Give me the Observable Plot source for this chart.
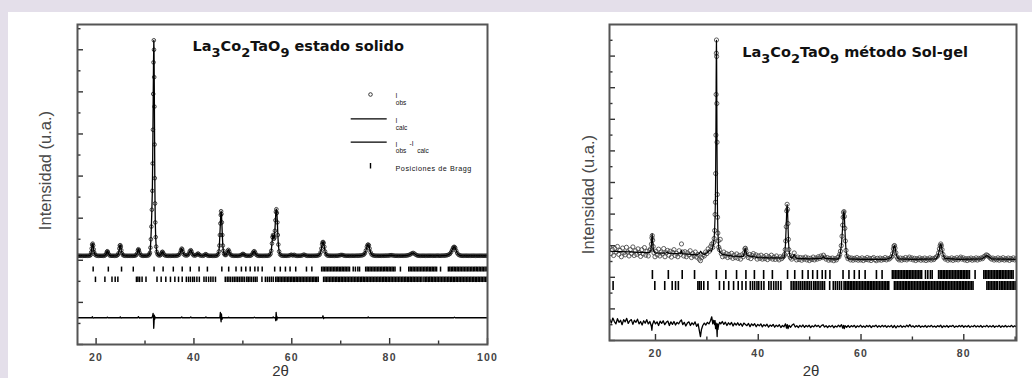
<!DOCTYPE html>
<html><head><meta charset="utf-8">
<script src="https://cdn.jsdelivr.net/npm/d3@7"></script>
<script src="https://cdn.jsdelivr.net/npm/@observablehq/plot@0.6"></script>
<style>
html,body{margin:0;padding:0;}
body{width:1032px;height:378px;overflow:hidden;background:#e4dfea;position:relative;font-family:"Liberation Sans",Arial,sans-serif;}
#sheet{position:absolute;left:8px;top:12px;width:1024px;height:366px;background:#fff;overflow:hidden;}
#left{position:absolute;left:0;top:0;}
#right{position:absolute;left:512px;top:0;}
g[aria-label="x-axis tick label"] text{letter-spacing:1.2px;}
</style></head><body>
<div id="sheet"><div id="left"></div><div id="right"></div></div>
<script>
// ---------- shared tick labels ----------
const xMajorLeft = [20, 40, 60, 80, 100];
const xMinorLeft = [30, 50, 70, 90];
const xMajorRight = [20, 40, 60, 80];
const xMinorRight = [30, 50, 70, 90];
const yMajorLeft = [-4000, -2000, 0, 2000, 4000, 6000, 8000, 10000];
const yMinorLeft = [-3000, -1000, 1000, 3000, 5000, 7000, 9000, 11000];
const yMajorRight = [-2000, 0, 2000, 4000, 6000, 8000, 10000, 12000, 14000, 16000];
const yMinorRight = [-1000, 1000, 3000, 5000, 7000, 9000, 11000, 13000, 15000, 17000];

const titleLeft = [["La",0],["3",1],["Co",0],["2",1],["TaO",0],["9",1],[" estado solido",0]];
const titleRight = [["La",0],["3",1],["Co",0],["2",1],["TaO",0],["9",1],[" método Sol-gel",0]];
const yLabel = "Intensidad (u.a.)";
const xLabel = "2θ";

// ---------- Bragg positions (2θ) ----------
const braggPhase1 = [19.4,22.5,25.2,27.6,31.85,33.7,35.78,37.6,39.25,41.05,42.75,45.7,47.1,48.6,49.7,50.6,51.5,52.45,53.1,53.95,56.5,57.65,58.7,59.65,60.8,63.0,64.1,
 66.1,66.4,66.7,67.0,67.3,67.6,67.9,68.2,68.5,68.8,69.1,69.4,69.7,70.0,70.3,70.6,70.9,71.2,71.5,71.8,72.55,73.0,73.5,73.85,
 75.1,75.4,75.7,76.0,76.3,76.6,76.9,77.2,77.5,77.8,78.1,78.4,78.7,79.0,79.3,79.6,79.9,80.2,80.5,80.8,81.1,82.2,
 83.9,84.2,84.5,84.8,85.1,85.4,85.7,86.0,86.3,86.6,86.9,87.2,87.5,87.8,88.1,88.4,88.7,89.0,89.3,89.6,90.4,
 92.0,92.3,92.6,92.9,93.2,93.5,93.8,94.1,94.4,94.7,95.0,95.3,95.6,95.9,96.2,96.5,96.8,97.1,97.4,97.7,98.0,98.3,98.6,98.9,99.2,99.5,99.8];
const braggPhase2 = [11.75,19.87,21.8,23.25,23.9,24.45,28.25,28.55,28.9,29.4,30.2,32.45,33.3,34.25,35.2,36.1,36.85,37.6,38.45,38.9,39.3,39.75,40.1,40.6,41.1,
 42.05,42.5,43.0,43.45,43.9,44.4,46.4,46.8,47.15,47.5,47.9,48.25,48.6,48.95,49.3,49.65,50.0,50.35,50.8,51.1,51.45,51.8,52.2,52.55,52.9,53.9,54.6,55.0,55.4,55.8,56.2,
 56.7,57.0,57.3,57.6,57.9,58.2,58.5,58.8,59.1,59.4,59.7,60.0,60.3,60.6,60.9,61.2,61.5,61.8,62.1,62.4,62.7,63.0,63.3,63.6,63.9,64.2,64.5,64.8,65.1,65.4,
 66.5,66.8,67.1,67.4,67.7,68.0,68.3,68.6,68.9,69.2,69.5,69.8,70.1,70.4,70.7,71.0,71.3,71.6,71.9,72.2,72.5,72.8,73.1,73.4,73.7,74.0,74.3,74.6,74.9,75.2,75.5,75.8,
 76.1,76.4,76.7,77.0,77.3,77.6,77.9,78.2,78.5,78.8,79.1,79.4,79.7,80.0,80.3,80.6,80.9,81.2,81.5,81.8,
 84.5,84.8,85.1,85.4,85.7,86.0,86.3,86.6,87.0,87.3,87.6,87.9,88.2,88.5,88.8,89.1,89.4,89.7,90.0,90.3,90.6,90.9,91.2,91.5,91.8,92.1,92.4,92.7,93.0,93.3,93.6,93.9,
 94.2,94.5,94.8,95.1,95.4,95.7,96.0,96.3,96.6,96.9,97.2,97.5,97.8,98.1,98.4,98.7,99.0,99.3,99.6,99.9];
// reflections of phase 2 seen only in the solid-state pattern
const braggPhase2SolidExtra = [82.1,82.4,82.7,83.0,83.3,83.6,83.9,84.2];

// ---------- Left panel: estado solido  [2θ, intensity] ----------
const solidObs = [[16.25,215],[16.5,218],[16.75,212],[17,216],[17.25,210],[17.5,214],[17.75,211],[18,215],[18.25,213],[18.5,217],[18.75,225],
[18.9,260],[19.0,380],[19.1,560],[19.2,740],[19.3,790],[19.4,700],[19.5,520],[19.6,380],[19.75,280],[20.0,230],[20.25,218],[20.5,212],[20.75,215],[21.0,210],[21.25,214],[21.5,212],[21.75,225],
[21.9,250],[22.1,320],[22.2,400],[22.3,430],[22.4,390],[22.55,300],[22.75,235],[23.0,215],[23.25,212],[23.5,216],[23.75,211],[24.0,214],[24.25,222],
[24.45,260],[24.6,340],[24.75,560],[24.85,700],[24.95,715],[25.05,640],[25.15,480],[25.3,330],[25.5,245],[25.75,218],[26.0,213],[26.25,216],[26.5,210],[26.75,214],[27.0,212],[27.25,215],[27.5,211],[27.75,216],[28.0,222],
[28.2,250],[28.4,330],[28.55,470],[28.65,525],[28.75,480],[28.9,360],[29.1,260],[29.3,225],[29.5,215],[29.75,212],[30.0,218],[30.25,214],[30.5,222],[30.75,240],
[30.9,290],[31.0,360],[31.1,600],[31.2,1000],[31.3,1600],[31.4,2400],[31.5,3300],[31.56,4600],[31.62,6200],[31.68,7900],[31.74,9400],[31.8,10450],[31.84,10000],[31.88,8700],[31.92,7300],[31.96,5500],[32.0,3900],[32.05,2700],[32.1,1800],[32.18,1100],[32.28,650],[32.4,400],[32.55,290],[32.75,240],
[33.0,228],[33.2,255],[33.35,330],[33.5,395],[33.6,400],[33.75,330],[33.95,250],[34.2,222],[34.5,215],[34.75,212],[35.0,216],[35.25,211],[35.5,214],[35.75,218],[36.0,213],[36.25,216],[36.5,220],[36.75,235],
[37.0,270],[37.2,360],[37.35,480],[37.5,555],[37.6,520],[37.75,400],[37.95,280],[38.2,235],[38.5,228],[38.75,250],[38.95,320],[39.15,430],[39.35,480],[39.5,420],[39.7,300],[39.9,240],[40.15,225],[40.4,240],[40.6,280],[40.8,320],[40.95,300],[41.15,245],[41.4,220],[41.75,214],
[42.0,222],[42.2,260],[42.4,290],[42.55,270],[42.75,230],[43.0,215],[43.25,212],[43.5,216],[43.75,210],[44.0,214],[44.25,212],[44.5,218],[44.75,235],
[44.95,290],[45.1,420],[45.2,700],[45.3,1200],[45.4,1750],[45.48,2150],[45.55,2330],[45.62,2200],[45.7,1800],[45.8,1200],[45.9,700],[46.0,450],[46.15,310],[46.35,250],[46.55,250],[46.75,330],[46.9,450],[47.05,495],[47.2,420],[47.4,300],[47.6,240],[47.85,222],
[48.1,215],[48.35,213],[48.6,217],[48.85,212],[49.1,216],[49.35,222],[49.6,240],[49.8,275],[50.0,305],[50.2,285],[50.4,240],[50.65,220],[50.9,214],[51.15,218],[51.4,213],[51.65,225],[51.85,270],[52.05,350],[52.2,410],[52.35,430],[52.5,370],[52.7,270],[52.95,228],
[53.2,215],[53.45,212],[53.7,216],[53.95,211],[54.2,215],[54.45,213],[54.7,217],[54.95,214],[55.2,220],[55.45,240],[55.65,300],[55.8,450],[55.95,800],[56.05,1100],[56.15,1200],[56.25,1150],[56.35,1020],[56.45,1080],[56.55,1400],[56.65,1900],[56.75,2300],[56.85,2425],[56.95,2250],[57.05,1800],[57.15,1200],[57.25,750],[57.4,420],[57.6,280],[57.85,230],
[58.1,218],[58.35,214],[58.6,217],[58.85,212],[59.1,216],[59.4,222],[59.65,240],[59.9,265],[60.1,240],[60.3,235],[60.5,260],[60.7,228],[60.95,215],[61.2,212],[61.45,216],[61.7,214],[61.95,222],[62.2,240],[62.45,270],[62.7,250],[62.95,222],
[63.2,213],[63.45,216],[63.7,211],[63.95,215],[64.2,212],[64.45,216],[64.7,214],[64.95,218],[65.2,222],[65.45,235],[65.7,270],[65.9,380],[66.05,560],[66.2,760],[66.3,850],[66.4,870],[66.5,820],[66.65,640],[66.8,420],[67.0,290],[67.25,230],
[67.5,218],[67.75,214],[68.0,217],[68.25,213],[68.5,216],[68.75,212],[69.0,218],[69.25,214],[69.5,222],[69.75,235],[70.0,250],[70.25,255],[70.5,240],[70.75,222],[71.0,215],[71.25,213],[71.5,217],[71.75,212],[72.0,216],[72.25,214],[72.5,218],[72.75,213],
[73.0,216],[73.25,220],[73.5,217],[73.75,222],[74.0,226],[74.25,232],[74.5,245],[74.75,275],[74.95,340],[75.15,470],[75.35,640],[75.5,730],[75.62,745],[75.75,710],[75.9,560],[76.1,380],[76.3,280],[76.55,240],[76.8,225],
[77.05,218],[77.3,214],[77.55,217],[77.8,212],[78.05,216],[78.3,214],[78.55,218],[78.8,215],[79.05,219],[79.3,222],[79.55,218],[79.8,226],[80.05,235],[80.3,245],[80.55,238],[80.8,225],[81.05,217],[81.3,214],[81.55,218],[81.8,213],
[82.05,216],[82.3,214],[82.55,219],[82.8,215],[83.05,218],[83.3,222],[83.55,230],[83.8,242],[84.05,262],[84.3,290],[84.55,330],[84.8,350],[85.05,320],[85.3,270],[85.55,238],[85.8,222],[86.05,216],[86.3,213],[86.55,217],[86.8,214],
[87.05,218],[87.3,212],[87.55,216],[87.8,214],[88.05,218],[88.3,215],[88.55,219],[88.8,214],[89.05,217],[89.3,213],[89.55,218],[89.8,222],[90.05,216],[90.3,214],[90.55,218],[90.8,223],[91.05,219],[91.3,226],[91.55,232],[91.8,245],
[92.05,265],[92.3,300],[92.55,380],[92.75,480],[92.95,580],[93.1,630],[93.25,635],[93.4,590],[93.6,460],[93.8,340],[94.05,270],[94.3,235],[94.55,222],[94.8,216],[95.05,213],[95.3,217],[95.55,214],[95.8,218],[96.05,212],[96.3,216],
[96.55,213],[96.8,217],[97.05,214],[97.3,218],[97.55,212],[97.8,216],[98.05,213],[98.3,217],[98.55,214],[98.8,218],[99.05,213],[99.3,216],[99.55,214],[99.8,217],[100.0,214]];
// Iobs - Icalc for the left panel
const solidDiff = [[16.25,0],[19.1,0],[19.25,50],[19.4,-20],[19.6,0],[22.2,0],[22.3,30],[22.45,0],[24.8,0],[24.95,45],[25.1,-20],[25.25,0],[28.5,0],[28.65,55],[28.8,-15],[28.95,0],
[31.4,0],[31.55,80],[31.65,210],[31.72,60],[31.78,-500],[31.84,-260],[31.9,120],[31.96,-80],[32.05,40],[32.15,0],[37.35,0],[37.5,40],[37.65,0],[39.2,0],[39.35,35],[39.5,0],[42.3,0],[42.45,40],[42.6,0],
[45.3,0],[45.4,250],[45.48,-60],[45.55,-190],[45.62,180],[45.72,-80],[45.85,0],[47.0,0],[47.1,25],[47.2,0],[52.2,0],[52.35,30],[52.5,0],[56.1,0],[56.2,40],[56.3,0],
[56.65,0],[56.72,-140],[56.8,256],[56.88,60],[56.95,-100],[57.05,30],[57.15,0],[66.25,0],[66.38,95],[66.5,-40],[66.6,0],[75.5,0],[75.62,40],[75.75,0],[93.1,0],[93.25,30],[93.4,0],[100,0]];

// ---------- Right panel: método Sol-gel ----------
const solgelObs = [[11.1,3900],[11.35,3500],[11.6,3750],[11.85,3380],[12.1,3820],[12.35,3600],[12.6,3950],[12.85,3450],[13.1,3700],[13.35,3300],[13.6,3850],[13.85,3550],[14.1,3420],[14.35,3900],[14.6,3600],[14.85,3350],
[15.1,3750],[15.35,3500],[15.6,3920],[15.85,3380],[16.1,3680],[16.35,3450],[16.6,3800],[16.85,3550],[17.1,3320],[17.35,3750],[17.6,3480],[17.85,3880],[18.1,3400],[18.35,3650],[18.6,3350],[18.85,3700],
[19.05,3800],[19.2,4100],[19.3,4500],[19.37,4640],[19.45,4350],[19.55,3950],[19.7,3550],[19.9,3300],[20.1,3650],[20.35,3420],[20.6,3780],[20.85,3350],[21.1,3600],[21.35,3480],[21.6,3820],[21.85,3300],
[22.1,3550],[22.35,3700],[22.6,3400],[22.85,3650],[23.1,3280],[23.35,3580],[23.6,3750],[23.85,3380],[24.1,3520],[24.35,3300],[24.6,3680],[24.85,3450],[25.06,4110],[25.25,3600],[25.5,3350],[25.75,3620],
[26.0,3300],[26.25,3550],[26.5,3420],[26.75,3680],[27.0,3250],[27.25,3500],[27.5,3350],[27.75,3600],[28.0,3280],[28.25,3450],[28.5,3150],[28.75,3050],[29.0,3250],[29.25,3420],[29.5,3350],[29.75,3600],
[30.0,3500],[30.25,3800],[30.5,3650],[30.75,3950],[30.95,4100],[31.15,3900],[31.3,4200],[31.42,4455],[31.52,4961],[31.6,5974],[31.66,6752],[31.71,8568],[31.76,11000],[31.8,13571],[31.84,16184],[31.87,17019],
[31.9,15975],[31.94,13000],[31.98,10549],[32.03,7239],[32.08,5800],[32.14,4800],[32.22,4300],[32.32,3900],[32.45,3750],[32.6,4400],[32.8,3500],[33.05,3300],[33.3,3600],[33.55,3350],[33.8,3500],[34.05,3250],
[34.3,3450],[34.55,3300],[34.8,3520],[35.05,3200],[35.3,3400],[35.55,3250],[35.8,3480],[36.05,3200],[36.3,3380],[36.55,3150],[36.8,3420],[37.05,3300],[37.25,3550],[37.4,3800],[37.5,3840],[37.6,3700],
[37.8,3400],[38.05,3250],[38.3,3450],[38.55,3180],[38.8,3380],[39.05,3500],[39.3,3300],[39.55,3420],[39.8,3150],[40.05,3350],[40.3,3200],[40.55,3400],[40.8,3150],[41.05,3300],[41.3,3180],[41.55,3380],
[41.8,3120],[42.05,3300],[42.3,3220],[42.55,3400],[42.8,3150],[43.05,3280],[43.3,3130],[43.55,3350],[43.8,3200],[44.05,3100],[44.3,3300],[44.55,3180],[44.8,3280],[45.0,3350],[45.12,3450],[45.25,3750],
[45.35,4300],[45.45,5200],[45.54,6200],[45.62,6620],[45.7,6300],[45.78,5400],[45.86,4400],[45.95,3750],[46.08,3400],[46.25,3250],[46.5,3150],[46.75,3300],[47.0,3540],[47.2,3250],[47.45,3100],[47.7,3280],
[47.95,3120],[48.2,3250],[48.45,3080],[48.7,3230],[48.95,3150],[49.2,3280],[49.45,3100],[49.7,3220],[49.95,3060],[50.2,3200],[50.45,3120],[50.7,3280],[50.95,3100],[51.2,3220],[51.45,3150],[51.7,3300],
[51.95,3200],[52.2,3350],[52.45,3250],[52.7,3400],[52.95,3280],[53.2,3150],[53.45,3250],[53.7,3080],[53.95,3200],[54.2,3100],[54.45,3220],[54.7,3050],[54.95,3180],[55.2,3100],[55.45,3250],[55.7,3300],
[55.85,3450],[56.0,3650],[56.15,4000],[56.3,4600],[56.42,5300],[56.52,5800],[56.6,6100],[56.68,6160],[56.76,5850],[56.85,5100],[56.95,4300],[57.08,3700],[57.25,3350],[57.45,3180],[57.7,3250],[57.95,3100],
[58.2,3220],[58.45,3080],[58.7,3200],[58.95,3120],[59.2,3250],[59.45,3080],[59.7,3180],[59.95,3100],[60.2,3230],[60.45,3060],[60.7,3180],[60.95,3120],[61.2,3250],[61.45,3100],[61.7,3200],[61.95,3060],
[62.2,3180],[62.45,3250],[62.7,3120],[62.95,3050],[63.2,3200],[63.45,3100],[63.7,3220],[63.95,3080],[64.2,3180],[64.45,3120],[64.7,3250],[64.95,3100],[65.2,3200],[65.45,3150],[65.7,3220],[65.95,3300],
[66.15,3500],[66.3,3800],[66.42,3980],[66.52,4010],[66.62,3850],[66.78,3550],[66.95,3300],[67.15,3180],[67.4,3100],[67.65,3220],[67.9,3080],[68.15,3200],[68.4,3120],[68.65,3250],[68.9,3100],[69.15,3180],
[69.4,3280],[69.65,3150],[69.9,3230],[70.15,3100],[70.4,3200],[70.65,3060],[70.9,3180],[71.15,3120],[71.4,3230],[71.65,3080],[71.9,3180],[72.15,3100],[72.4,3220],[72.65,3060],[72.9,3170],[73.15,3110],
[73.4,3230],[73.65,3090],[73.9,3190],[74.15,3120],[74.4,3220],[74.65,3280],[74.9,3350],[75.1,3550],[75.25,3800],[75.4,4000],[75.52,4110],[75.64,4000],[75.78,3750],[75.95,3450],[76.15,3250],[76.4,3150],
[76.65,3220],[76.9,3080],[77.15,3180],[77.4,3110],[77.65,3230],[77.9,3070],[78.15,3190],[78.4,3120],[78.65,3240],[78.9,3100],[79.15,3200],[79.4,3280],[79.65,3150],[79.9,3230],[80.15,3100],[80.4,3180],
[80.65,3060],[80.9,3190],[81.15,3120],[81.4,3220],[81.65,3080],[81.9,3180],[82.15,3110],[82.4,3230],[82.65,3090],[82.9,3200],[83.15,3140],[83.4,3230],[83.65,3180],[83.9,3300],[84.15,3350],[84.4,3420],
[84.65,3380],[84.9,3300],[85.15,3220],[85.4,3150],[85.65,3220],[85.9,3090],[86.15,3180],[86.4,3110],[86.65,3230],[86.9,3080],[87.15,3190],[87.4,3120],[87.65,3240],[87.9,3090],[88.15,3180],[88.4,3110],
[88.65,3220],[88.9,3070],[89.15,3190],[89.4,3120],[89.65,3230],[89.9,3100],[90.15,3180]];
const solgelCalc = [[11.1,3650],[13,3630],[15,3610],[17,3580],[18.8,3560],[19.1,3700],[19.25,4300],[19.35,4750],[19.45,4300],[19.6,3700],[19.9,3550],[22,3530],[22.3,3600],[22.5,3530],[24.9,3490],[25.05,3700],[25.25,3490],
[27,3450],[28,3420],[28.5,3500],[28.8,3650],[29.1,3500],[29.5,3450],[30,3550],[30.5,3700],[30.9,3650],[31.2,3950],[31.4,4400],[31.5,4950],[31.6,5900],[31.66,6900],[31.71,8800],[31.76,11500],[31.8,14300],[31.84,16500],[31.87,17000],
[31.9,16000],[31.94,13000],[31.98,10000],[32.03,7700],[32.08,6000],[32.14,5000],[32.22,4300],[32.32,3850],[32.5,3600],[33,3450],[35,3340],[37.1,3320],[37.3,3550],[37.45,3830],[37.6,3650],[37.8,3380],[40,3250],[42,3230],
[45,3220],[45.15,3450],[45.3,4100],[45.42,5100],[45.54,6250],[45.62,6600],[45.7,6250],[45.8,5200],[45.9,4200],[46.0,3650],[46.2,3300],[46.5,3220],[46.8,3300],[47.0,3450],[47.2,3280],[47.5,3200],[50,3170],[52.4,3200],[52.7,3300],[53,3200],
[55.5,3150],[55.8,3300],[56.0,3600],[56.2,4100],[56.35,4800],[56.5,5650],[56.6,6100],[56.68,6180],[56.76,5900],[56.86,5100],[56.96,4300],[57.1,3650],[57.3,3280],[57.6,3160],[60,3140],[65,3140],[65.9,3250],[66.15,3500],[66.3,3820],
[66.45,4000],[66.55,4000],[66.65,3850],[66.8,3550],[67,3300],[67.3,3170],[70,3140],[74.6,3170],[75,3350],[75.25,3750],[75.4,4000],[75.52,4100],[75.64,4000],[75.8,3700],[76,3400],[76.3,3200],[79,3140],[83.5,3170],[84.5,3380],[85.4,3170],[90.2,3130]];
const solgelDiff = [[11.1,450],[11.4,200],[11.7,520],[12.0,300],[12.3,150],[12.6,480],[12.9,250],[13.2,380],[13.5,100],[13.8,420],[14.1,280],[14.4,500],[14.7,180],[15.0,350],[15.3,420],[15.6,120],[15.9,380],[16.2,250],[16.5,450],[16.8,150],
[17.1,300],[17.4,80],[17.7,350],[18.0,200],[18.3,420],[18.6,150],[18.9,300],[19.2,0],[19.3,-250],[19.4,100],[19.7,350],[20.0,150],[20.3,280],[20.6,50],[20.9,320],[21.2,180],[21.5,350],[21.8,100],[22.1,250],[22.4,330],[22.7,50],
[23.0,280],[23.3,120],[23.6,300],[23.9,80],[24.2,250],[24.5,150],[24.8,320],[25.05,400],[25.3,100],[25.6,250],[25.9,20],[26.2,200],[26.5,280],[26.8,50],[27.1,220],[27.4,100],[27.7,280],[28.0,0],[28.3,150],[28.55,-300],[28.75,-650],
[28.95,-200],[29.2,50],[29.5,200],[29.8,80],[30.1,250],[30.4,150],[30.7,350],[30.95,600],[31.15,150],[31.35,380],[31.5,100],[31.6,350],[31.7,-150],[31.8,200],[31.87,50],[31.94,-250],[32.0,-650],[32.06,150],[32.15,-200],[32.3,100],
[32.5,250],[32.7,150],[33.0,300],[33.3,120],[33.6,260],[33.9,50],[34.2,220],[34.5,100],[34.8,240],[35.1,20],[35.4,200],[35.7,80],[36.0,220],[36.3,60],[36.6,180],[36.9,0],[37.2,200],[37.5,120],[37.8,40],[38.1,180],[38.4,-20],
[38.7,150],[39.0,50],[39.3,160],[39.6,-30],[39.9,120],[40.2,30],[40.5,150],[40.8,-40],[41.1,100],[41.4,20],[41.7,130],[42.0,-50],[42.3,80],[42.6,0],[42.9,120],[43.2,-60],[43.5,70],[43.8,-20],[44.1,100],[44.4,-80],[44.7,50],
[45.0,-30],[45.3,150],[45.5,-120],[45.65,100],[45.8,-150],[46.0,60],[46.3,-60],[46.6,80],[46.9,150],[47.2,-50],[47.5,40],[47.8,-80],[48.1,60],[48.4,-40],[48.7,80],[49.0,-70],[49.3,50],[49.6,-30],[49.9,70],[50.2,-80],[50.5,30],
[50.8,-40],[51.1,80],[51.4,-20],[51.7,60],[52.0,-70],[52.3,40],[52.6,100],[52.9,-50],[53.2,30],[53.5,-80],[53.8,40],[54.1,-40],[54.4,60],[54.7,-90],[55.0,20],[55.3,-50],[55.6,70],[55.9,-30],[56.2,100],[56.45,-120],[56.6,60],
[56.75,-150],[56.9,40],[57.2,-60],[57.5,50],[57.8,-70],[58.1,40],[58.4,-30],[58.7,60],[59.0,-80],[59.3,30],[59.6,-40],[59.9,70],[60.2,-60],[60.5,20],[60.8,-70],[61.1,50],[61.4,-30],[61.7,60],[62.0,-80],[62.3,30],[62.6,-20],
[62.9,70],[63.2,-60],[63.5,40],[63.8,-50],[64.1,60],[64.4,-30],[64.7,50],[65.0,-70],[65.3,30],[65.6,-40],[65.9,60],[66.2,-80],[66.5,50],[66.8,-100],[67.1,30],[67.4,-40],[67.7,60],[68.0,-60],[68.3,20],[68.6,-50],[68.9,70],
[69.2,-30],[69.5,100],[69.8,-40],[70.1,30],[70.4,-70],[70.7,40],[71.0,-30],[71.3,60],[71.6,-60],[71.9,20],[72.2,-40],[72.5,50],[72.8,-70],[73.1,30],[73.4,-30],[73.7,60],[74.0,-50],[74.3,20],[74.6,-60],[74.9,40],[75.2,-30],
[75.5,70],[75.8,-80],[76.1,30],[76.4,-40],[76.7,50],[77.0,-60],[77.3,30],[77.6,-20],[77.9,60],[78.2,-70],[78.5,20],[78.8,-40],[79.1,50],[79.4,-30],[79.7,60],[80.0,-60],[80.3,30],[80.6,-40],[80.9,50],[81.2,-70],[81.5,20],
[81.8,-30],[82.1,60],[82.4,-50],[82.7,30],[83.0,-40],[83.3,50],[83.6,-60],[83.9,20],[84.2,-30],[84.5,60],[84.8,-50],[85.1,30],[85.4,-40],[85.7,50],[86.0,-60],[86.3,20],[86.6,-30],[86.9,60],[87.2,-70],[87.5,30],[87.8,-40],
[88.1,50],[88.4,-50],[88.7,20],[89.0,-30],[89.3,60],[89.6,-50],[89.9,30],[90.2,-20]];

// ---------- drawing ----------
function applySubs(svg, parts, subSize, shift) {
  const full = parts.map(p => p[0]).join("");
  d3.select(svg).selectAll("text").filter(function () { return this.textContent === full; }).each(function () {
    const t = d3.select(this); t.text(null);
    let low = false;
    for (const [s, sub] of parts) {
      const ts = t.append("tspan").text(s);
      if (sub) { ts.attr("font-size", subSize); if (!low) { ts.attr("dy", shift); low = true; } }
      else if (low) { ts.attr("dy", -shift); low = false; }
    }
  });
}

function panel(cfg) {
  const fw = cfg.width - cfg.ml - cfg.mr, fh = cfg.height - cfg.mt - cfg.mb;
  const [x0, x1] = cfg.xDomain, [y0, y1] = cfg.yDomain;
  const X = px => x0 + px / fw * (x1 - x0);          // frame-relative px -> data
  const Y = py => y1 - py / fh * (y1 - y0);
  const tickStyle = {stroke: "#333", strokeWidth: 1.4};
  const marks = [
    Plot.ruleX(cfg.phase1, {x: d => d, y1: cfg.rows[0][0], y2: cfg.rows[0][1], stroke: "#000", strokeWidth: cfg.braggW, clip: true}),
    Plot.ruleX(cfg.phase2, {x: d => d, y1: cfg.rows[1][0], y2: cfg.rows[1][1], stroke: "#000", strokeWidth: cfg.braggW, clip: true}),
    Plot.line(cfg.diff, {x: d => d[0], y: d => d[1] + cfg.diffOffset, stroke: "#000", strokeWidth: cfg.diffW, clip: true}),
    Plot.dot(cfg.obs, {x: d => d[0], y: d => d[1], r: cfg.r, stroke: cfg.dotColor, strokeWidth: 0.85, fill: "none", clip: true}),
    Plot.line(cfg.calc, {x: d => d[0], y: d => d[1], stroke: "#000", strokeWidth: cfg.calcW, clip: true}),
    Plot.ruleX(cfg.xMajor, {x: d => d, insetTop: fh - 6, ...tickStyle}),
    Plot.ruleX(cfg.xMinor, {x: d => d, insetTop: fh - 3.5, ...tickStyle}),
    Plot.ruleY(cfg.yMajor, {y: d => d, insetRight: fw - 6, ...tickStyle}),
    Plot.ruleY(cfg.yMinor, {y: d => d, insetRight: fw - 3.5, ...tickStyle}),
    Plot.frame({stroke: "#555", strokeWidth: 2}),
    Plot.axisX({ticks: cfg.xMajor, tickSize: 0, tickPadding: cfg.tickPad, label: null, fontSize: 10.5, fontWeight: "bold", fill: "#444"}),
    Plot.text([yLabel], {frameAnchor: "left", rotate: -90, dx: cfg.ylab[0], dy: cfg.ylab[1], fontSize: 16.5, fill: "#4a4a4a", textAnchor: "middle", lineAnchor: "middle"}),
    Plot.text([xLabel], {frameAnchor: "bottom", dx: -2, dy: cfg.xlabDy, fontSize: 15, fill: "#333", lineAnchor: "bottom"}),
    Plot.text([cfg.title.map(p => p[0]).join("")], {frameAnchor: "top-left", dx: cfg.titlePos[0], dy: cfg.titlePos[1], textAnchor: "start", lineAnchor: "bottom",
      fontSize: 14.5, fontWeight: "bold", fontFamily: "DejaVu Sans", fill: "#111"})
  ];
  if (cfg.legend) {
    const lg = {fontSize: 6.5, fill: "#111", textAnchor: "start", lineAnchor: "bottom", fontFamily: "Liberation Sans"};
    const item = (s, px, py, extra = {}) => Plot.text([s], {x: X(px), y: Y(py), ...lg, ...extra});
    marks.push(
      Plot.dot([0], {x: X(293), y: Y(70), r: 1.8, stroke: "#222", strokeWidth: 0.9, fill: "none"}),
      item("I", 318, 73.5), item("obs", 318.3, 80.5),
      Plot.ruleY([Y(94.3)], {x1: X(273.7), x2: X(309.7), stroke: "#000", strokeWidth: 1.2}),
      item("I", 318, 98.7), item("calc", 318.3, 105.3),
      Plot.ruleY([Y(117.7)], {x1: X(273.7), x2: X(309.7), stroke: "#000", strokeWidth: 1.2}),
      item("I", 318, 122), item("-I", 332, 121), item("obs", 318.3, 128.7), item("calc", 339.7, 128.7),
      Plot.ruleX([X(293)], {y1: Y(139), y2: Y(144.5), stroke: "#000", strokeWidth: 1.4}),
      item("Posiciones de Bragg", 318, 146, {fontSize: 7.2})
    );
  }
  const svg = Plot.plot({
    width: cfg.width, height: cfg.height,
    marginLeft: cfg.ml, marginRight: cfg.mr, marginTop: cfg.mt, marginBottom: cfg.mb,
    x: {domain: cfg.xDomain},
    y: {domain: cfg.yDomain, axis: null},
    style: {fontFamily: "Liberation Sans, Arial, sans-serif", background: "transparent", overflow: "visible"},
    marks
  });
  applySubs(svg, cfg.title, 13, 6);
  d3.select(svg).selectAll("text").filter(function () { return this.textContent === "Posiciones de Bragg"; }).attr("letter-spacing", 0.55);
  return svg;
}

document.getElementById("left").append(panel({
  width: 512, height: 370, ml: 69, mr: 33, mt: 12, mb: 38,
  xDomain: [16.2, 100], yDomain: [-4000, 11200],
  xMajor: xMajorLeft, xMinor: xMinorLeft, yMajor: yMajorLeft, yMinor: yMinorLeft,
  obs: solidObs, calc: solidObs, diff: solidDiff, diffOffset: -2730,
  phase1: braggPhase1, phase2: braggPhase2.concat(braggPhase2SolidExtra),
  rows: [[-322, -560], [-797, -1058]], braggW: 1.5,
  r: 1.8, dotColor: "#222", calcW: 1.3, diffW: 1.3,
  tickPad: 9, ylab: [-32, -14], xlabDy: 31.5,
  title: titleLeft, titlePos: [115, 26.7], legend: true
}));
document.getElementById("right").append(panel({
  width: 512, height: 370, ml: 89, mr: 16, mt: 12, mb: 42,
  xDomain: [11.05, 90.26], yDomain: [-2000, 18000],
  xMajor: xMajorRight, xMinor: xMinorRight, yMajor: yMajorRight, yMinor: yMinorRight,
  obs: solgelObs, calc: solgelCalc, diff: solgelDiff, diffOffset: -1100,
  phase1: braggPhase1, phase2: braggPhase2,
  rows: [[2430, 1860], [1734, 1165]], braggW: 1.6,
  r: 2.1, dotColor: "#444", calcW: 1.2, diffW: 1.3,
  tickPad: 9.3, ylab: [-21, 12], xlabDy: 35.5,
  title: titleRight, titlePos: [132.7, 32.7], legend: false
}));
</script>
</body></html>
